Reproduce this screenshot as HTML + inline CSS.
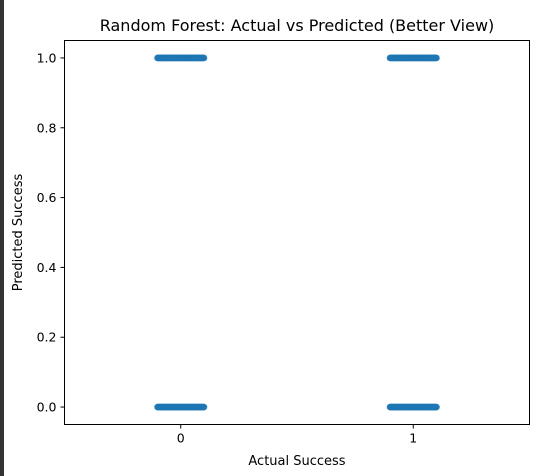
<!DOCTYPE html>
<html><head><meta charset="utf-8">
<style>
html,body{margin:0;padding:0;background:#fff;}
svg{display:block;font-family:"DejaVu Sans","Liberation Sans",sans-serif;}
</style></head>
<body>
<svg id="chart" width="536" height="476" xmlns="http://www.w3.org/2000/svg">
<rect x="0" y="0" width="4" height="476" fill="#333"/>
<text x="297" y="31" text-anchor="middle" font-size="16" fill="#000">Random Forest: Actual vs Predicted (Better View)</text>
<g id="marks"></g>
<g id="axes"></g>
<rect x="64.5" y="40.5" width="465" height="384" fill="none" stroke="#000" stroke-width="1"/>
<text x="297" y="465" text-anchor="middle" font-size="13" fill="#000">Actual Success</text>
<text x="0" y="0" transform="translate(22,232.5) rotate(-90)" text-anchor="middle" font-size="13" fill="#000">Predicted Success</text>
</svg>
<script>
const categories = [0, 1];
const xTickLabels = ["0", "1"];
const yTicks = [0.0, 0.2, 0.4, 0.6, 0.8, 1.0];
const yTickLabels = ["0.0", "0.2", "0.4", "0.6", "0.8", "1.0"];
const pointActual = [0, 0, 1, 1];
const pointPredicted = [1, 0, 1, 0];
const jitterWidth = 0.1;

const NS = "http://www.w3.org/2000/svg";
const L = 64.5, R = 529.5, T = 40.5, B = 424.5;
const xMin = -0.5, xMax = 1.5, yMin = -0.05, yMax = 1.05;
const xs = v => L + (v - xMin) / (xMax - xMin) * (R - L);
const ys = v => B - (v - yMin) / (yMax - yMin) * (B - T);

const marks = document.getElementById('marks');
for (let i = 0; i < pointActual.length; i++) {
  const g = document.createElementNS(NS, 'g');
  
  
  const n = 80;
  for (let k = 0; k < n; k++) {
    const off = -jitterWidth + 2 * jitterWidth * k / (n - 1);
    const c = document.createElementNS(NS, 'circle');
    c.setAttribute('cx', xs(pointActual[i] + off));
    c.setAttribute('cy', ys(pointPredicted[i]));
    c.setAttribute('r', 3.3);
    c.setAttribute('fill', '#1f77b4');
    c.setAttribute('fill-opacity', '0.85');
    
    
    g.appendChild(c);
  }
  marks.appendChild(g);
}

const axes = document.getElementById('axes');
categories.forEach((c, i) => {
  const x = xs(c);
  const t = document.createElementNS(NS, 'line');
  t.setAttribute('x1', x); t.setAttribute('x2', x);
  t.setAttribute('y1', B); t.setAttribute('y2', B + 4);
  t.setAttribute('stroke', '#000');
  
  
  axes.appendChild(t);
  const lb = document.createElementNS(NS, 'text');
  lb.setAttribute('x', x); lb.setAttribute('y', B + 18);
  lb.setAttribute('text-anchor', 'middle'); lb.setAttribute('font-size', '12.5');
  lb.textContent = xTickLabels[i];
  
  
  axes.appendChild(lb);
});
yTicks.forEach((v, i) => {
  const y = ys(v);
  const t = document.createElementNS(NS, 'line');
  t.setAttribute('x1', L - 4); t.setAttribute('x2', L);
  t.setAttribute('y1', y); t.setAttribute('y2', y);
  t.setAttribute('stroke', '#000');
  
  
  axes.appendChild(t);
  const lb = document.createElementNS(NS, 'text');
  lb.setAttribute('x', L - 8); lb.setAttribute('y', y + 4.5);
  lb.setAttribute('text-anchor', 'end'); lb.setAttribute('font-size', '12.5');
  lb.textContent = yTickLabels[i];
  
  
  axes.appendChild(lb);
});
</script>
</body></html>
